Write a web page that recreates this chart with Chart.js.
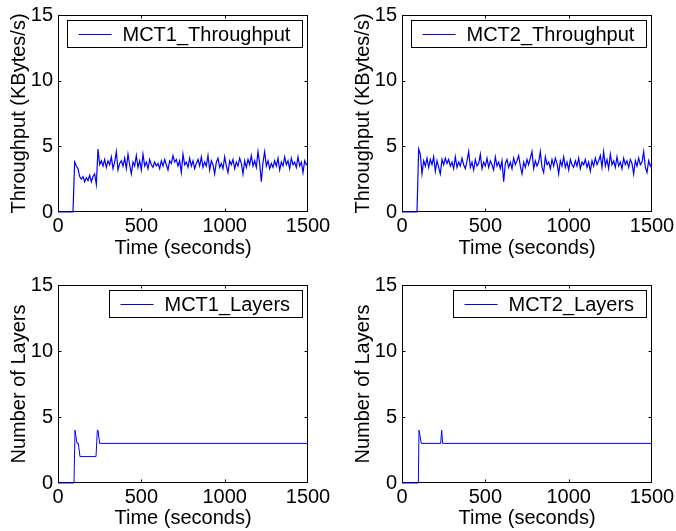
<!DOCTYPE html>
<html>
<head>
<meta charset="utf-8">
<script src="https://cdn.jsdelivr.net/npm/chart.js@4/dist/chart.umd.min.js"></script>
<style>
  html, body { margin: 0; padding: 0; background: #fff; }
  #wrap { position: relative; width: 676px; height: 531px; }
  canvas { position: absolute; left: 0; top: 0; }
</style>
</head>
<body>
<div id="wrap">
  <canvas id="c1" width="676" height="531"></canvas>
  <canvas id="c2" width="676" height="531"></canvas>
  <canvas id="c3" width="676" height="531"></canvas>
  <canvas id="c4" width="676" height="531"></canvas>
</div>
<script>
// ---- data ----
const tTimes = [0,10,20,30,40,50,60,70,80,90,100,110,120,130,140,150,160,170,180,190,200,210,220,230,240,250,260,270,280,290,300,310,320,330,340,350,360,370,380,390,400,410,420,430,440,450,460,470,480,490,500,510,520,530,540,550,560,570,580,590,600,610,620,630,640,650,660,670,680,690,700,710,720,730,740,750,760,770,780,790,800,810,820,830,840,850,860,870,880,890,900,910,920,930,940,950,960,970,980,990,1000,1010,1020,1030,1040,1050,1060,1070,1080,1090,1100,1110,1120,1130,1140,1150,1160,1170,1180,1190,1200,1210,1220,1230,1240,1250,1260,1270,1280,1290,1300,1310,1320,1330,1340,1350,1360,1370,1380,1390,1400,1410,1420,1430,1440,1450,1460,1470,1480,1490,1500];

const mct1Throughput = [0,0,0,0,0,0,0,0,0,0,
  3.8,3.5,3.3,2.7,2.5,2.7,2.3,2.6,2.4,2.8,2.3,2.7,2.9,2.1,
  4.8,3.6,3.9,3.5,4.0,3.4,3.9,3.6,4.2,3.3,3.8,4.6,3.2,3.7,3.9,3.5,
  4.1,3.3,4.4,3.6,2.9,3.8,3.5,4.3,3.4,3.9,3.2,4.4,3.5,3.8,3.3,4.0,
  3.6,3.4,3.8,3.5,3.7,3.3,3.9,3.5,4.0,3.6,3.2,3.9,3.7,4.3,3.8,4.0,
  3.5,3.9,3.0,4.4,3.6,3.8,3.4,4.1,3.5,3.9,3.3,3.7,4.0,3.5,4.2,3.4,
  3.8,3.5,4.3,3.2,3.9,3.6,2.9,3.8,4.1,3.4,3.7,3.3,4.2,3.5,3.0,3.9,
  3.6,4.0,3.3,3.8,3.5,4.1,3.7,2.9,3.9,3.4,4.0,3.6,4.3,3.5,3.9,3.4,
  4.6,3.7,2.3,3.8,4.6,3.5,3.9,3.3,3.7,3.4,3.9,3.5,4.1,3.2,3.8,3.5,
  4.2,3.6,3.9,3.3,4.1,3.6,3.8,3.4,4.2,3.5,3.8,3.0,3.9,3.6,3.7];

const mct2Throughput = [0,0,0,0,0,0,0,0,0,0,
  4.8,4.4,2.9,3.9,3.5,4.1,3.4,4.0,3.6,4.2,3.1,3.9,3.4,2.9,
  4.0,3.6,4.1,3.7,4.0,3.5,3.8,3.3,4.2,3.4,3.8,3.5,4.1,3.6,3.3,3.9,
  4.6,3.4,3.8,3.2,4.0,3.5,3.7,4.4,3.3,3.8,3.5,4.1,3.4,3.9,3.6,3.2,
  4.2,3.5,3.8,3.3,3.9,2.3,3.7,4.0,3.4,3.8,3.3,4.1,3.6,3.9,4.3,3.5,
  2.9,3.8,3.4,4.0,3.6,4.1,4.6,3.3,3.9,3.5,3.8,4.6,3.4,3.0,4.2,3.6,
  3.8,3.3,4.0,3.5,4.1,3.7,2.9,3.9,3.5,4.2,3.4,3.8,3.2,4.0,3.6,3.4,
  3.9,3.5,4.1,3.3,3.8,3.6,4.0,3.4,3.8,3.1,3.9,3.5,4.1,3.6,3.9,4.3,
  3.4,4.6,3.5,4.0,3.3,4.4,3.6,3.9,3.4,4.2,3.5,3.8,3.3,4.1,3.6,3.9,
  3.4,4.0,3.7,2.9,3.9,3.5,4.1,3.6,3.8,4.6,3.4,3.0,3.9,3.5,3.7];

const mct1LayerTimes = [0, 96, 102, 114, 122, 132, 228, 236, 240, 250, 1500];
const mct1Layers     = [0,  0,   4,   3,   3,   2,   2,   4,   4,   3,    3];
const mct2LayerTimes = [0, 98, 102, 116, 232, 238, 244, 1500];
const mct2Layers     = [0,  0,   4,   3,   3,   4,   3,    3];

const xTicks = [0, 500, 1000, 1500];
const yTicks = [0, 5, 10, 15];
const xTitle = 'Time (seconds)';
const yTitleTop = 'Throughput (KBytes/s)';
const yTitleBottom = 'Number of Layers';

// ---- drawing ----
const FONT = '"Liberation Sans", Arial, Helvetica, sans-serif';
const FS = 20;
const BLUE = '#0000ff';

const matlabPlugin = {
  id: 'matlab',
  beforeDatasetsDraw(chart) {
    const {ctx, chartArea: a, scales: {x, y}} = chart;
    ctx.save();
    ctx.strokeStyle = '#000';
    ctx.lineWidth = 1;
    const L = Math.round(a.left) + 0.5, R = Math.round(a.right) - 0.5;
    const T = Math.round(a.top) + 0.5, B = Math.round(a.bottom) - 0.5;
    ctx.strokeRect(L, T, R - L, B - T);
    const tl = 3;
    ctx.beginPath();
    xTicks.forEach(v => {
      const px = Math.min(R, Math.max(L, Math.round(x.getPixelForValue(v)) + 0.5));
      ctx.moveTo(px, B); ctx.lineTo(px, B - tl);
      ctx.moveTo(px, T); ctx.lineTo(px, T + tl);
    });
    yTicks.forEach(v => {
      const py = Math.min(B, Math.max(T, Math.round(y.getPixelForValue(v)) + 0.5));
      ctx.moveTo(L, py); ctx.lineTo(L + tl, py);
      ctx.moveTo(R, py); ctx.lineTo(R - tl, py);
    });
    ctx.stroke();
    ctx.restore();
  },
  afterDraw(chart) {
    const {ctx, chartArea: a} = chart;
    const ds = chart.data.datasets[0];
    ctx.save();
    ctx.font = FS + 'px ' + FONT;
    const tw = ctx.measureText(ds.label).width;
    const w = Math.round(55 + tw + 12), h = 27;
    const bx = Math.round(a.right - 6 - w) + 0.5;
    const by = Math.round(a.top + 5) + 0.5;
    ctx.fillStyle = '#fff';
    ctx.fillRect(bx, by, w, h);
    ctx.strokeStyle = '#000';
    ctx.lineWidth = 1;
    ctx.strokeRect(bx, by, w, h);
    const my = by + h / 2;
    ctx.strokeStyle = BLUE;
    ctx.beginPath();
    ctx.moveTo(bx + 11, Math.round(my) + 0.5);
    ctx.lineTo(bx + 44, Math.round(my) + 0.5);
    ctx.stroke();
    ctx.fillStyle = '#000';
    ctx.textBaseline = 'middle';
    ctx.textAlign = 'left';
    ctx.fillText(ds.label, bx + 55, my + 1);
    ctx.restore();
  }
};

function zeroPad(s) { s.paddingLeft = 0; s.paddingRight = 0; s.paddingTop = 0; s.paddingBottom = 0; }

function makeChart(id, label, times, vals, yTitle, box, lw) {
  const data = times.map((t, i) => ({x: t, y: vals[i]}));
  return new Chart(document.getElementById(id), {
    type: 'line',
    data: { datasets: [{
      label: label, data: data, borderColor: BLUE, borderWidth: lw,
      pointRadius: 0, tension: 0, fill: false, clip: false
    }]},
    options: {
      responsive: false, animation: false, events: [],
      layout: { padding: { left: box.L0, top: box.chartTop, right: 676 - box.chartRight, bottom: 531 - box.boxBottom } },
      plugins: { legend: { display: false }, tooltip: { enabled: false } },
      scales: {
        x: {
          type: 'linear', min: 0, max: 1500,
          afterFit(s) { s.height = box.boxBottom - box.chartBottom; zeroPad(s); },
          afterBuildTicks(s) { s.ticks = xTicks.map(v => ({value: v})); },
          grid: { display: false, drawTicks: false }, border: { display: false },
          ticks: { color: '#000', padding: 4, maxRotation: 0, autoSkip: false,
                   callback: v => String(v),
                   font: { family: FONT, size: FS, lineHeight: 1 } },
          title: { display: true, text: xTitle, color: '#000', padding: { top: 0, bottom: box.xPad }, font: { family: FONT, size: FS, lineHeight: 1 } }
        },
        y: {
          type: 'linear', min: 0, max: 15,
          afterFit(s) { s.width = box.chartLeft - box.L0; zeroPad(s); },
          afterBuildTicks(s) { s.ticks = yTicks.map(v => ({value: v})); },
          grid: { display: false, drawTicks: false }, border: { display: false },
          ticks: { color: '#000', padding: 5, autoSkip: false,
                   callback: v => String(v),
                   font: { family: FONT, size: FS, lineHeight: 1 } },
          title: { display: true, text: yTitle, color: '#000', padding: { top: box.yPad, bottom: 0 }, font: { family: FONT, size: FS, lineHeight: 1 } }
        }
      }
    },
    plugins: [matlabPlugin]
  });
}

makeChart('c1', 'MCT1_Throughput', tTimes, mct1Throughput, yTitleTop,
  {L0: 0, chartLeft: 58, chartRight: 308, chartTop: 15, chartBottom: 212, boxBottom: 265, yPad: 9, xPad: 7}, 1.2);
makeChart('c2', 'MCT2_Throughput', tTimes, mct2Throughput, yTitleTop,
  {L0: 344, chartLeft: 402, chartRight: 652, chartTop: 15, chartBottom: 212, boxBottom: 265, yPad: 9, xPad: 7}, 1.2);
makeChart('c3', 'MCT1_Layers', mct1LayerTimes, mct1Layers, yTitleBottom,
  {L0: 0, chartLeft: 58, chartRight: 308, chartTop: 285, chartBottom: 483, boxBottom: 531, yPad: 9, xPad: 3}, 1);
makeChart('c4', 'MCT2_Layers', mct2LayerTimes, mct2Layers, yTitleBottom,
  {L0: 344, chartLeft: 402, chartRight: 652, chartTop: 285, chartBottom: 483, boxBottom: 531, yPad: 9, xPad: 3}, 1);
</script>
</body>
</html>
